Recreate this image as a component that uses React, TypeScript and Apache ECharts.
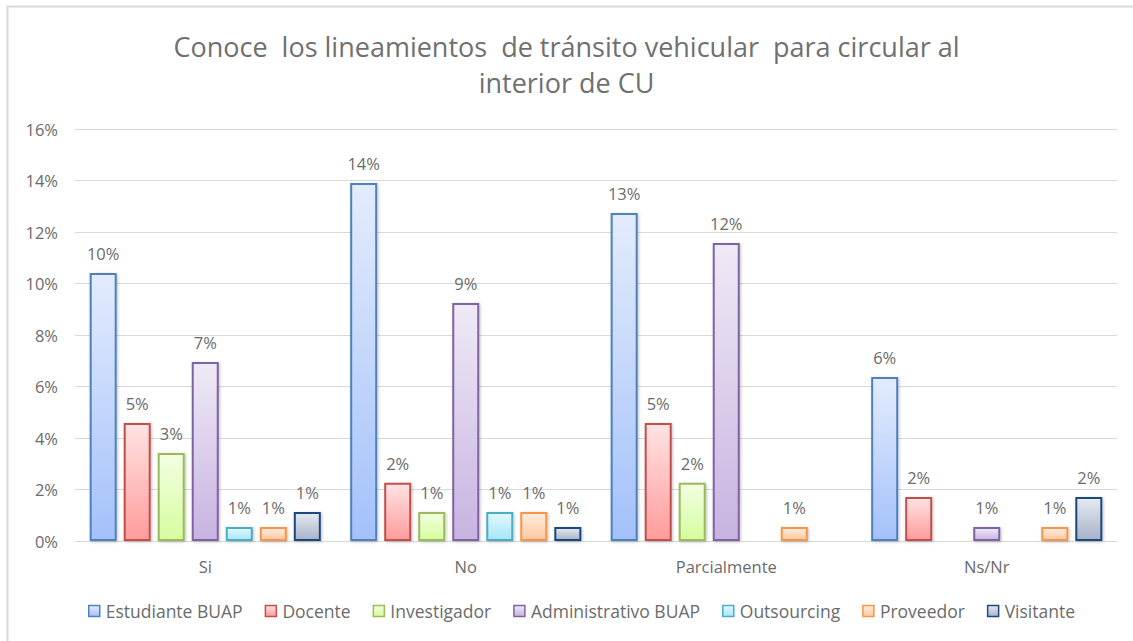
import React, { useEffect, useRef } from "react";
import * as echarts from "echarts";

const categories = ["Si", "No", "Parcialmente", "Ns/Nr"];
const seriesNames = [
  "Estudiante BUAP",
  "Docente",
  "Investigador",
  "Administrativo BUAP",
  "Outsourcing",
  "Proveedor",
  "Visitante",
];
const estudiante = [10.41, 13.9, 12.74, 6.37];
const docente = [4.58, 2.26, 4.58, 1.71];
const investigador = [3.42, 1.13, 2.26, null];
const administrativo = [6.95, 9.24, 11.57, 0.54];
const outsourcing = [0.54, 1.13, null, null];
const proveedor = [0.54, 1.13, 0.54, 0.54];
const visitante = [1.13, 0.54, null, 1.71];
const yTicks = [0, 2, 4, 6, 8, 10, 12, 14, 16];

const seriesValues = [estudiante, docente, investigador, administrativo, outsourcing, proveedor, visitante];
const borders = ["#4F81BD", "#C0504D", "#9BBB59", "#8064A2", "#4BACC6", "#F79646", "#1F497D"];
const tops = ["#E3ECFD", "#FFE3E3", "#F3FFE3", "#EFEAF6", "#E3F8FE", "#FFEDE0", "#E6EAF1"];
const bottoms = ["#A3C1FA", "#FF9B9B", "#D5FD9E", "#C7B3E1", "#A5E6F8", "#FFC79E", "#A7B3C8"];

const FONT = "'Open Sans', Lato, sans-serif";
const GRAY = "#6b6b6b";

export default function App() {
  const ref = useRef<HTMLDivElement>(null);
  useEffect(() => {
    const chart = echarts.init(ref.current!, undefined, { renderer: "svg" });
    const grad = (i: number) =>
      new echarts.graphic.LinearGradient(0, 0, 0, 1, [
        { offset: 0, color: tops[i] },
        { offset: 1, color: bottoms[i] },
      ]);
    chart.setOption({
      animation: false,
      backgroundColor: "#ffffff",
      textStyle: { fontFamily: FONT },
      title: {
        text: "Conoce  los lineamientos  de tránsito vehicular  para circular al\ninterior de CU",
        left: "center",
        top: 23,
        textStyle: {
          fontFamily: FONT,
          fontSize: 27,
          fontWeight: "normal",
          color: "#707070",
          lineHeight: 36,
        },
      },
      legend: {
        bottom: 16,
        left: 83,
        padding: 5,
        itemWidth: 11,
        itemHeight: 11,
        itemGap: 22,
        icon: "rect",
        textStyle: { fontFamily: FONT, fontSize: 17.5, color: GRAY, padding: [0, 0, 0, 1] },
        data: seriesNames.map((n, i) => ({
          name: n,
          itemStyle: { color: grad(i), borderColor: borders[i], borderWidth: 1.5 },
        })),
      },
      grid: { left: 75, right: 16, top: 129, bottom: 100, containLabel: false },
      xAxis: {
        type: "category",
        data: categories,
        axisLine: { lineStyle: { color: "#D9D9D9" } },
        axisTick: { show: false },
        axisLabel: { fontFamily: FONT, fontSize: 16.5, color: GRAY, margin: 17 },
      },
      yAxis: {
        type: "value",
        min: 0,
        max: 16,
        interval: 2,
        axisLine: { show: false },
        axisTick: { show: false },
        splitLine: { lineStyle: { color: "#D9D9D9", width: 1 } },
        axisLabel: {
          fontFamily: FONT,
          fontSize: 16.5,
          color: GRAY,
          margin: 17,
          formatter: (v: number) => (yTicks.includes(v) ? v + "%" : ""),
        },
      },
      series: seriesNames.map((name, i) => ({
        name,
        type: "bar",
        data: seriesValues[i],
        barWidth: 27,
        barGap: "26%",
        itemStyle: {
          color: grad(i),
          borderColor: borders[i],
          borderWidth: 2,
          shadowColor: "rgba(0,0,0,0.25)",
          shadowBlur: 3,
          shadowOffsetX: 1,
          shadowOffsetY: 1,
        },
        label: {
          show: true,
          position: "top",
          distance: 11,
          fontFamily: FONT,
          fontSize: 16.5,
          color: GRAY,
          formatter: (p: any) => Math.round(p.value) + "%",
        },
      })),
      graphic: [
        {
          type: "line",
          shape: { x1: 7, y1: 6.5, x2: 1133, y2: 6.5 },
          style: { stroke: "#D9D9D9", lineWidth: 2 },
          silent: true,
        },
        {
          type: "line",
          shape: { x1: 7.5, y1: 6, x2: 7.5, y2: 641 },
          style: { stroke: "#D9D9D9", lineWidth: 2 },
          silent: true,
        },
      ],
    });
    return () => chart.dispose();
  }, []);
  return (
    <div
      ref={ref}
      style={{ position: "fixed", left: 0, top: 0, width: 1133, height: 641 }}
    />
  );
}
